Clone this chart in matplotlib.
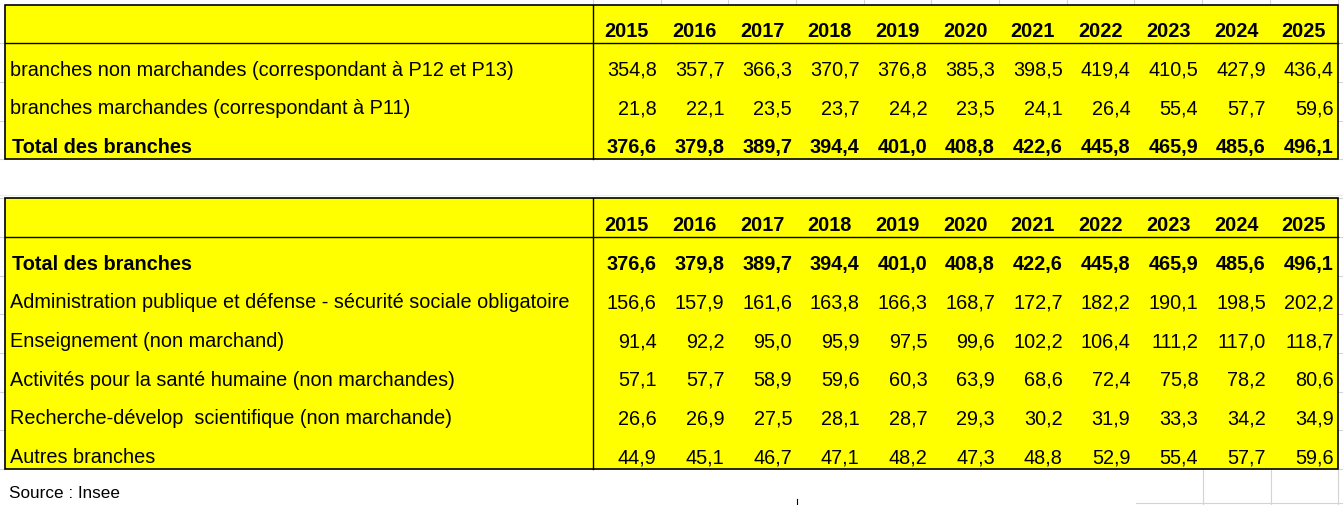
import matplotlib
matplotlib.use("Agg")
import matplotlib.pyplot as plt
from matplotlib.patches import Rectangle

# ---------------- data ----------------
years = [2015, 2016, 2017, 2018, 2019, 2020, 2021, 2022, 2023, 2024, 2025]

t1_labels = ["branches non marchandes (correspondant à P12 et P13)",
             "branches marchandes (correspondant à P11)",
             "Total des branches"]
t1_non_marchandes = [354.8, 357.7, 366.3, 370.7, 376.8, 385.3, 398.5, 419.4, 410.5, 427.9, 436.4]
t1_marchandes = [21.8, 22.1, 23.5, 23.7, 24.2, 23.5, 24.1, 26.4, 55.4, 57.7, 59.6]
t1_total = [376.6, 379.8, 389.7, 394.4, 401.0, 408.8, 422.6, 445.8, 465.9, 485.6, 496.1]
t1_bold = [False, False, True]

t2_labels = ["Total des branches",
             "Administration publique et défense - sécurité sociale obligatoire",
             "Enseignement (non marchand)",
             "Activités pour la santé humaine (non marchandes)",
             "Recherche-dévelop  scientifique (non marchande)",
             "Autres branches"]
t2_total = [376.6, 379.8, 389.7, 394.4, 401.0, 408.8, 422.6, 445.8, 465.9, 485.6, 496.1]
t2_admin = [156.6, 157.9, 161.6, 163.8, 166.3, 168.7, 172.7, 182.2, 190.1, 198.5, 202.2]
t2_enseignement = [91.4, 92.2, 95.0, 95.9, 97.5, 99.6, 102.2, 106.4, 111.2, 117.0, 118.7]
t2_sante = [57.1, 57.7, 58.9, 59.6, 60.3, 63.9, 68.6, 72.4, 75.8, 78.2, 80.6]
t2_recherche = [26.6, 26.9, 27.5, 28.1, 28.7, 29.3, 30.2, 31.9, 33.3, 34.2, 34.9]
t2_autres = [44.9, 45.1, 46.7, 47.1, 48.2, 47.3, 48.8, 52.9, 55.4, 57.7, 59.6]
t2_bold = [True, False, False, False, False, False]

source_text = "Source : Insee"

t1_rows = [t1_non_marchandes, t1_marchandes, t1_total]
t2_rows = [t2_total, t2_admin, t2_enseignement, t2_sante, t2_recherche, t2_autres]

# ---------------- layout ----------------
W, H = 1343, 505
fig = plt.figure(figsize=(W / 100, H / 100), dpi=100)
ax = fig.add_axes([0, 0, 1, 1])
ax.set_xlim(0, W)
ax.set_ylim(H, 0)
ax.axis("off")

FONT = ["Liberation Sans", "DejaVu Sans"]
FS = 14.3
YELLOW = "#FFFF00"
GRID = "#d4d4d4"

x_left, x_div, x_right = 5, 593, 1337.5
ncol = len(years)
colw = (x_right - x_div) / ncol
col_edges = [x_div + k * colw for k in range(ncol + 1)]


def fmt(v):
    return f"{v:.1f}".replace(".", ",")


def draw_table(y_top, y_head, row_h, labels, rows, bold):
    n = len(rows)
    y_bot = y_head + n * row_h
    ax.add_patch(Rectangle((x_left, y_top), x_right - x_left, y_bot - y_top,
                           facecolor=YELLOW, edgecolor="none", zorder=2))
    # header years
    for j, yr in enumerate(years):
        cx = (col_edges[j] + col_edges[j + 1]) / 2
        ax.text(cx, y_head - 6, str(yr), ha="center", va="baseline",
                fontsize=FS, fontweight="bold", family=FONT, zorder=4)
    for i, (lab, vals) in enumerate(zip(labels, rows)):
        yb = y_head + (i + 1) * row_h - 6
        fw = "bold" if bold[i] else "normal"
        ax.text(x_left + 5 + (2 if bold[i] else 0), yb, lab, ha="left", va="baseline",
                fontsize=FS, fontweight=fw, family=FONT, zorder=4)
        for j, v in enumerate(vals):
            ax.text(col_edges[j + 1] - 4, yb, fmt(v), ha="right", va="baseline",
                    fontsize=FS, fontweight=fw, family=FONT, zorder=4)
    # lines
    ax.plot([x_left, x_right], [y_head, y_head], color="black", lw=1.0, zorder=5)
    ax.plot([x_div, x_div], [y_top, y_bot], color="black", lw=1.0, zorder=5)
    ax.add_patch(Rectangle((x_left, y_top), x_right - x_left, y_bot - y_top,
                           facecolor="none", edgecolor="black", lw=1.2, zorder=6))
    return y_bot


# faint spreadsheet gridlines (visible outside filled cells)
for xe in col_edges:
    ax.plot([xe, xe], [0, 5], color=GRID, lw=0.8, zorder=1)
for yy in [43, 82, 121, 159, 198, 237, 276, 314, 353, 392, 430, 469]:
    ax.plot([0, x_left], [yy, yy], color=GRID, lw=0.8, zorder=1)
    ax.plot([x_right, W], [yy, yy], color=GRID, lw=0.8, zorder=1)
ax.plot([0, W], [195, 195], color="#ececec", lw=0.8, zorder=1)
for xe in [1203, 1271, x_right]:
    ax.plot([xe, xe], [469, H], color=GRID, lw=0.8, zorder=1)
ax.plot([1136, W], [503, 503], color=GRID, lw=0.8, zorder=1)
ax.plot([797, 797], [499, H], color="black", lw=0.8, zorder=1)

draw_table(5, 43, (159 - 43) / 3, t1_labels, t1_rows, t1_bold)
draw_table(198, 237, (469 - 237) / 6, t2_labels, t2_rows, t2_bold)

ax.text(9, 498, source_text, ha="left", va="baseline", fontsize=12.3,
        family=FONT, zorder=4)

fig.savefig("out.png", dpi=100)
